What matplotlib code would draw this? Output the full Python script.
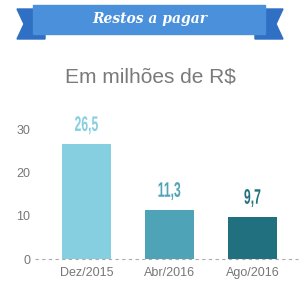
import matplotlib
matplotlib.use("Agg")
import matplotlib.pyplot as plt
from matplotlib.patches import Polygon, Rectangle, PathPatch
from matplotlib.textpath import TextPath
from matplotlib.font_manager import FontProperties
from matplotlib.transforms import Affine2D

# data
categories = ["Dez/2015", "Abr/2016", "Ago/2016"]
values = [26.5, 11.3, 9.7]
value_labels = ["26,5", "11,3", "9,7"]
colors = ["#86cfe0", "#4ea3b6", "#21707f"]
yticks = [0, 10, 20, 30]

fig = plt.figure(figsize=(3, 3), dpi=100)

# banner / title drawn in pixel coords
bg = fig.add_axes([0, 0, 1, 1])
bg.set_xlim(0, 300)
bg.set_ylim(300, 0)
bg.axis("off")
dark = "#2f6fc4"
main = "#4a90da"
bg.add_patch(Polygon([(17, 9), (45, 9), (45, 39), (17, 39), (24, 24)], closed=True, color=dark))
bg.add_patch(Polygon([(283, 9), (255, 9), (255, 39), (283, 39), (276, 24)], closed=True, color=dark))
bg.add_patch(Rectangle((33, 5), 232, 29, color=main))
bg.text(150, 19, "Restos a pagar", color="white", fontsize=10, fontweight="bold",
        fontstyle="italic", family="DejaVu Serif", ha="center", va="center")
bg.text(150, 77, "Em milhões de R$", color="#7a7a7a", fontsize=15,
        family="Liberation Sans", ha="center", va="center")

ax = fig.add_axes([35 / 300, 1 - 259 / 300, 263 / 300, 130 / 300])
x = range(len(values))
ax.bar(x, values, width=0.59, color=colors)
ax.set_xlim(-0.62, 2.55)
ax.set_ylim(0, 30)

# condensed bold value labels (no narrow font installed, so squeeze a text path)
fp = FontProperties(family="Liberation Sans", weight="bold")
for i, v in enumerate(values):
    tp = TextPath((0, 0), value_labels[i], size=21, prop=fp)
    ext = tp.get_extents()
    px, py = ax.transData.transform((i, v))
    tr = (Affine2D().translate(-(ext.x0 + ext.x1) / 2, -ext.y0)
          .scale(0.58, 1.0).translate(px, py + 10))
    ax.add_patch(PathPatch(tp, transform=tr, color=colors[i], lw=0, clip_on=False))

ax.set_yticks(yticks)
ax.set_xticks(list(x))
ax.set_xticklabels(categories)
for s in ["top", "right", "left", "bottom"]:
    ax.spines[s].set_visible(False)
ax.axhline(0, color="#aaaaaa", linestyle=(0, (3, 3)), linewidth=0.8, clip_on=False)
ax.tick_params(length=0, labelsize=9, labelcolor="#777777")
ax.tick_params(axis="x", pad=6)
ax.tick_params(axis="y", pad=3.5)
for lab in ax.get_xticklabels() + ax.get_yticklabels():
    lab.set_family("Liberation Sans")

fig.savefig("out.png", dpi=100, facecolor="white")
